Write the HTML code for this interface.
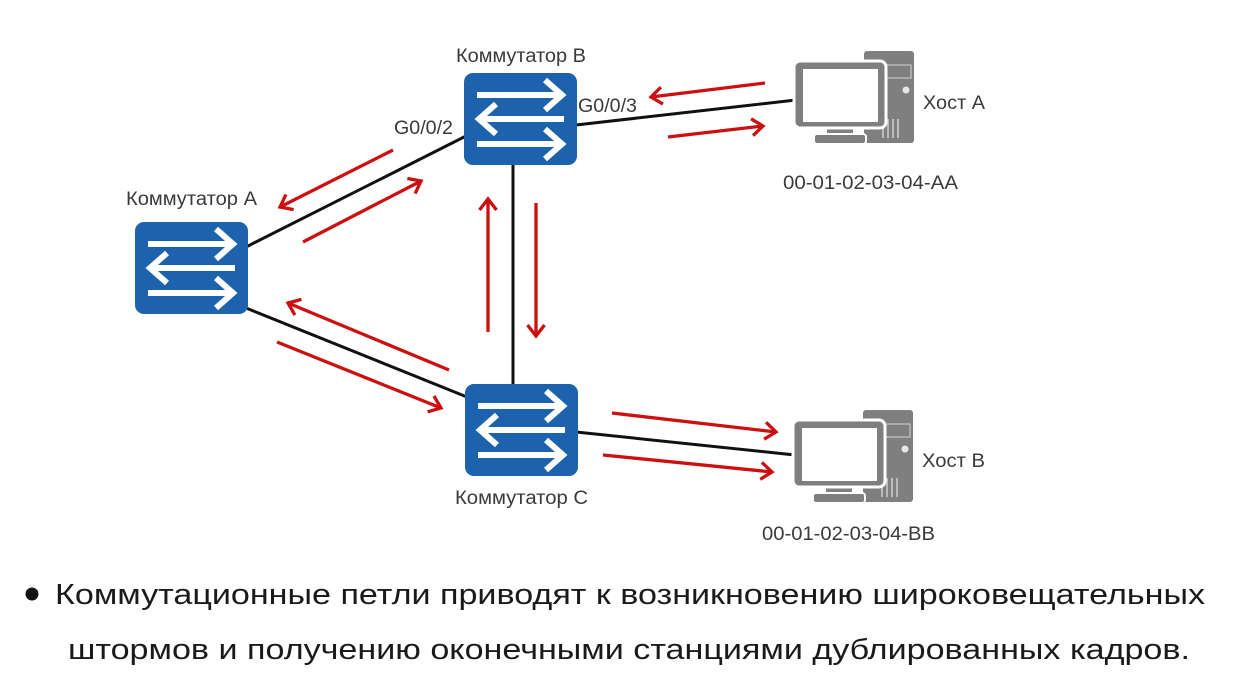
<!DOCTYPE html>
<html>
<head>
<meta charset="utf-8">
<style>
html,body{margin:0;padding:0;background:#fff;}
body{width:1258px;height:681px;overflow:hidden;}
svg{display:block;}
text{font-family:"Liberation Sans","Noto Sans CJK SC",sans-serif;}
</style>
</head>
<body>
<svg width="1258" height="681" viewBox="0 0 1258 681" xmlns="http://www.w3.org/2000/svg">
<defs>
  <marker id="ah" markerUnits="userSpaceOnUse" markerWidth="20" markerHeight="20" viewBox="0 0 20 20" refX="16" refY="10" orient="auto">
    <path d="M5,1.5 L16,10 L5,18.5" fill="none" stroke="#cc1010" stroke-width="3.3" stroke-linejoin="miter"/>
  </marker>
  <g id="sw">
    <rect x="0" y="0" width="113" height="92" rx="9" ry="9" fill="#1c62ac"/>
    <g stroke="#ffffff" stroke-width="6" fill="none" stroke-linejoin="miter" stroke-linecap="butt">
      <line x1="13" y1="22" x2="96" y2="22"/>
      <polyline points="81,7 98,22 81,37"/>
      <line x1="17" y1="46" x2="100" y2="46"/>
      <polyline points="32,31 15,46 32,61"/>
      <line x1="13" y1="71" x2="96" y2="71"/>
      <polyline points="81,56 98,71 81,86"/>
    </g>
  </g>
  <g id="host">
    <rect x="70" y="-10" width="50" height="92" rx="3" fill="#7f7f7f"/>
    <rect x="91" y="4" width="26" height="13" fill="none" stroke="#b8b8b8" stroke-width="1.5"/>
    <circle cx="112" cy="29" r="3.5" fill="#e6e6e6"/>
    <g stroke="#d0d0d0" stroke-width="1.5">
      <line x1="89" y1="60" x2="89" y2="77"/>
      <line x1="94" y1="58" x2="94" y2="77"/>
      <line x1="99" y1="58" x2="99" y2="77"/>
      <line x1="104" y1="58" x2="104" y2="77"/>
    </g>
    <rect x="32" y="66" width="28" height="8" fill="#7f7f7f" stroke="#fff" stroke-width="2"/>
    <rect x="20" y="73" width="52" height="10" rx="3" fill="#7f7f7f" stroke="#fff" stroke-width="2"/>
    <rect x="0" y="0" width="92" height="67" rx="6" fill="#7f7f7f" stroke="#fff" stroke-width="3"/>
    <rect x="9" y="8" width="75" height="53" fill="#ffffff"/>
  </g>
</defs>

<g stroke="#111" stroke-width="3" fill="none">
  <line x1="246" y1="247" x2="466" y2="136"/>
  <line x1="246" y1="308" x2="467" y2="397"/>
  <line x1="513" y1="164" x2="513" y2="385"/>
  <line x1="576" y1="125" x2="796" y2="100"/>
  <line x1="576" y1="432" x2="795" y2="455"/>
</g>

<use href="#sw" x="135" y="222"/>
<use href="#sw" x="464" y="73"/>
<use href="#sw" x="465" y="384"/>

<use href="#host" x="794" y="61"/>
<use href="#host" x="793" y="420"/>

<g stroke="#cc1010" stroke-width="3.3" fill="none" marker-end="url(#ah)">
  <line x1="393" y1="150" x2="280" y2="207"/>
  <line x1="303" y1="242" x2="421" y2="181"/>
  <line x1="488" y1="332" x2="488" y2="199"/>
  <line x1="536" y1="203" x2="536" y2="336"/>
  <line x1="449" y1="370" x2="288" y2="303"/>
  <line x1="277" y1="342" x2="441" y2="408"/>
  <line x1="765" y1="83" x2="651" y2="97"/>
  <line x1="668" y1="137" x2="763" y2="126"/>
  <line x1="612" y1="413" x2="776" y2="432"/>
  <line x1="603" y1="455" x2="772" y2="472"/>
</g>

<g fill="#3a3a3a" font-size="19">
  <text x="456" y="62" textLength="130" lengthAdjust="spacingAndGlyphs">Коммутатор B</text>
  <text x="126" y="205" textLength="131" lengthAdjust="spacingAndGlyphs">Коммутатор A</text>
  <text x="455" y="504" textLength="133" lengthAdjust="spacingAndGlyphs">Коммутатор C</text>
  <text x="394" y="134" textLength="59" lengthAdjust="spacingAndGlyphs">G0/0/2</text>
  <text x="578" y="112" textLength="59" lengthAdjust="spacingAndGlyphs">G0/0/3</text>
  <text x="923" y="109" textLength="62" lengthAdjust="spacingAndGlyphs">Хост A</text>
  <text x="922" y="467" textLength="63" lengthAdjust="spacingAndGlyphs">Хост B</text>
  <text x="783" y="189" textLength="175" lengthAdjust="spacingAndGlyphs">00-01-02-03-04-AA</text>
  <text x="762" y="540" textLength="173" lengthAdjust="spacingAndGlyphs">00-01-02-03-04-BB</text>
</g>

<circle cx="32" cy="594" r="6.5" fill="#111"/>
<g fill="#1a1a1a" font-size="29">
  <text x="55" y="604" textLength="1150" lengthAdjust="spacingAndGlyphs">Коммутационные петли приводят к возникновению широковещательных</text>
  <text x="68" y="659" textLength="1122" lengthAdjust="spacingAndGlyphs">штормов и получению оконечными станциями дублированных кадров.</text>
</g>
</svg>
</body>
</html>
